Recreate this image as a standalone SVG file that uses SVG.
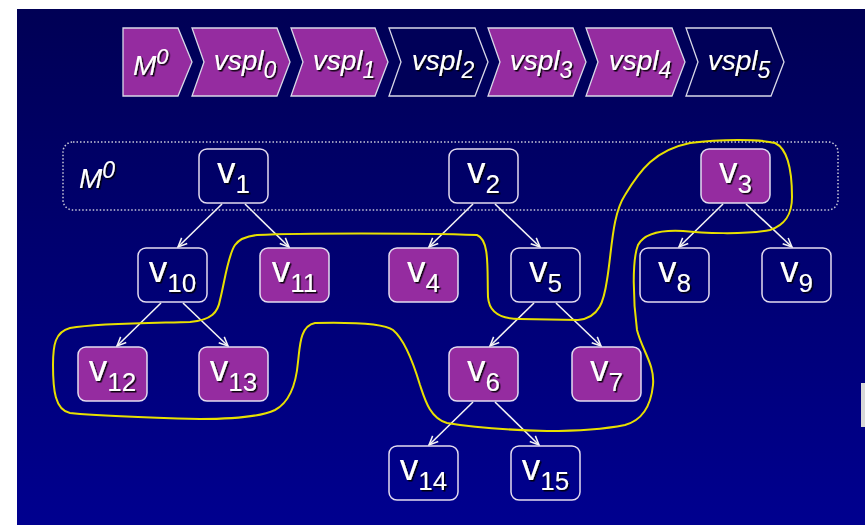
<svg xmlns="http://www.w3.org/2000/svg" width="865" height="525" viewBox="0 0 865 525">
  <defs>
    <linearGradient id="bg" x1="0" y1="0" x2="0" y2="1">
      <stop offset="0" stop-color="#000055"/>
      <stop offset="1" stop-color="#00008f"/>
    </linearGradient>
    <filter id="shadow" x="-20%" y="-20%" width="140%" height="140%">
      <feDropShadow dx="1.5" dy="1.5" stdDeviation="0.4" flood-color="#000000" flood-opacity="0.9"/>
    </filter>
    <marker id="arrow" viewBox="-10 -6 12 12" refX="0" refY="0" markerWidth="12" markerHeight="12" markerUnits="userSpaceOnUse" orient="auto">
      <path d="M-9,-4 L0,0 L-9,4" fill="none" stroke="#f4f4f4" stroke-width="1.5"/>
    </marker>
  </defs>
  <style>
    .chev { stroke: #d8d8e8; stroke-width: 1.3; }
    .purple { fill: #952ca0; }
    .dark { fill: #000058; }
    .clab { font-family: "Liberation Sans", Arial, sans-serif; font-style: italic; font-size: 28px; fill: #ffffff; filter: url(#shadow); }
    .node rect { stroke: #e4dcf0; stroke-width: 1.5; }
    .node .plain { fill: none; }
    .node .hi { fill: #952ca0; }
    .nlab { font-family: "Liberation Sans", Arial, sans-serif; font-size: 37px; fill: #ffffff; filter: url(#shadow); text-anchor: middle; }
    .sub { font-size: 26px; }
    .edge { stroke: #f4f4f4; stroke-width: 1.6; fill: none; marker-end: url(#arrow); }
    .loop { fill: none; stroke: #e8e000; stroke-width: 2; }
  </style>

  <!-- page and slide background -->
  <rect x="0" y="0" width="865" height="525" fill="#ffffff"/>
  <rect x="17" y="9" width="848" height="516" fill="url(#bg)"/>
  <rect x="861" y="383" width="4" height="44" fill="#d8d8d8"/>

  <!-- progressive mesh sequence -->
  <g id="sequence">
    <g id="seq-m0">
      <polygon class="chev purple" points="123,28 178,28 192,62 178,96 123,96"/>
      <text class="clab" x="133" y="75" font-size="35">M<tspan dy="-11" font-size="22">0</tspan></text>
    </g>
    <g id="seq-vspl0">
      <polygon class="chev purple" points="192,28 277,28 290,62 277,96 192,96 204,62"/>
      <text class="clab" x="245" y="70" text-anchor="middle">vspl<tspan dy="8" font-size="23">0</tspan></text>
    </g>
    <g id="seq-vspl1">
      <polygon class="chev purple" points="291,28 375,28 388,62 375,96 291,96 303,62"/>
      <text class="clab" x="344" y="70" text-anchor="middle">vspl<tspan dy="8" font-size="23">1</tspan></text>
    </g>
    <g id="seq-vspl2">
      <polygon class="chev dark" points="389,28 475,28 488,62 475,96 389,96 401,62"/>
      <text class="clab" x="443" y="70" text-anchor="middle">vspl<tspan dy="8" font-size="23">2</tspan></text>
    </g>
    <g id="seq-vspl3">
      <polygon class="chev purple" points="488,28 573,28 586,62 573,96 488,96 500,62"/>
      <text class="clab" x="541" y="70" text-anchor="middle">vspl<tspan dy="8" font-size="23">3</tspan></text>
    </g>
    <g id="seq-vspl4">
      <polygon class="chev purple" points="586,28 672,28 685,62 672,96 586,96 598,62"/>
      <text class="clab" x="640" y="70" text-anchor="middle">vspl<tspan dy="8" font-size="23">4</tspan></text>
    </g>
    <g id="seq-vspl5">
      <polygon class="chev dark" points="686,28 771,28 784,62 771,96 686,96 698,62"/>
      <text class="clab" x="739" y="70" text-anchor="middle">vspl<tspan dy="8" font-size="23">5</tspan></text>
    </g>
  </g>

  <!-- base mesh frame -->
  <g id="base-mesh">
    <rect x="63" y="142" width="775" height="68" rx="10" fill="none" stroke="#c8c8d8" stroke-width="1.5" stroke-dasharray="1.5 2"/>
    <text class="clab" x="79" y="188" font-size="37">M<tspan dy="-10" font-size="23">0</tspan></text>
  </g>

  <!-- hierarchy edges -->
  <g id="edges">
    <line class="edge" x1="222" y1="204" x2="178" y2="247"/>
    <line class="edge" x1="245" y1="204" x2="289" y2="247"/>
    <line class="edge" x1="473" y1="204" x2="429" y2="247"/>
    <line class="edge" x1="495" y1="204" x2="540" y2="247"/>
    <line class="edge" x1="723" y1="204" x2="679" y2="247"/>
    <line class="edge" x1="746" y1="204" x2="792" y2="247"/>
    <line class="edge" x1="161" y1="303" x2="117" y2="346"/>
    <line class="edge" x1="183" y1="303" x2="228" y2="346"/>
    <line class="edge" x1="534" y1="303" x2="490" y2="346"/>
    <line class="edge" x1="556" y1="303" x2="601" y2="346"/>
    <line class="edge" x1="473" y1="402" x2="429" y2="445"/>
    <line class="edge" x1="495" y1="402" x2="539" y2="445"/>
  </g>

  <!-- vertices -->
  <g id="v1" class="node"><rect class="plain" x="199" y="149" width="69" height="54" rx="8"/><text class="nlab" x="233.5" y="183">v<tspan class="sub" dy="10">1</tspan></text></g>
  <g id="v2" class="node"><rect class="plain" x="449" y="149" width="69" height="54" rx="8"/><text class="nlab" x="483.5" y="183">v<tspan class="sub" dy="10">2</tspan></text></g>
  <g id="v3" class="node"><rect class="hi" x="701" y="149" width="69" height="54" rx="8"/><text class="nlab" x="735.5" y="183">v<tspan class="sub" dy="10">3</tspan></text></g>

  <g id="v10" class="node"><rect class="plain" x="138" y="248" width="69" height="54" rx="8"/><text class="nlab" x="172.5" y="282">v<tspan class="sub" dy="10">10</tspan></text></g>
  <g id="v11" class="node"><rect class="hi" x="260" y="248" width="69" height="54" rx="8"/><text class="nlab" x="294.5" y="282">v<tspan class="sub" dy="10">11</tspan></text></g>
  <g id="v4" class="node"><rect class="hi" x="389" y="248" width="69" height="54" rx="8"/><text class="nlab" x="423.5" y="282">v<tspan class="sub" dy="10">4</tspan></text></g>
  <g id="v5" class="node"><rect class="plain" x="511" y="248" width="69" height="54" rx="8"/><text class="nlab" x="545.5" y="282">v<tspan class="sub" dy="10">5</tspan></text></g>
  <g id="v8" class="node"><rect class="plain" x="640" y="248" width="69" height="54" rx="8"/><text class="nlab" x="674.5" y="282">v<tspan class="sub" dy="10">8</tspan></text></g>
  <g id="v9" class="node"><rect class="plain" x="762" y="248" width="69" height="54" rx="8"/><text class="nlab" x="796.5" y="282">v<tspan class="sub" dy="10">9</tspan></text></g>

  <g id="v12" class="node"><rect class="hi" x="78" y="347" width="69" height="54" rx="8"/><text class="nlab" x="112.5" y="381">v<tspan class="sub" dy="10">12</tspan></text></g>
  <g id="v13" class="node"><rect class="hi" x="199" y="347" width="69" height="54" rx="8"/><text class="nlab" x="233.5" y="381">v<tspan class="sub" dy="10">13</tspan></text></g>
  <g id="v6" class="node"><rect class="hi" x="449" y="347" width="69" height="54" rx="8"/><text class="nlab" x="483.5" y="381">v<tspan class="sub" dy="10">6</tspan></text></g>
  <g id="v7" class="node"><rect class="hi" x="572" y="347" width="69" height="54" rx="8"/><text class="nlab" x="606.5" y="381">v<tspan class="sub" dy="10">7</tspan></text></g>

  <g id="v14" class="node"><rect class="plain" x="389" y="446" width="69" height="54" rx="8"/><text class="nlab" x="423.5" y="480">v<tspan class="sub" dy="10">14</tspan></text></g>
  <g id="v15" class="node"><rect class="plain" x="511" y="446" width="69" height="54" rx="8"/><text class="nlab" x="545.5" y="480">v<tspan class="sub" dy="10">15</tspan></text></g>

  <!-- hand-drawn outline around the selected vertices -->
  <path class="loop" d="M257,235 C300,233 420,233 477,235 C490,240 487,270 488,297 C489,312 500,319 520,319 L578,320 C600,318 604,300 607,280 C612,250 612,215 625,195 C640,170 655,150 690,143 C720,139 760,139 775,143 C790,150 792,180 792,197 C792,215 785,225 770,230 C745,235 700,233 683,231 C665,230 645,232 638,245 C632,260 633,300 637,330 C642,350 655,365 653,385 C651,405 643,420 625,425 C600,430 570,431 547,431 C510,430 470,427 447,423 C430,418 425,400 420,385 C414,365 405,340 393,330 C385,324 360,322 315,323 C300,326 300,345 298,362 C296,385 290,402 275,410 C260,417 235,419 200,419 C160,418 100,416 70,413 C55,410 53,390 53,365 C53,345 55,332 70,328 C100,323 160,323 190,322 C212,320 218,312 220,300 C225,280 228,255 235,245 C240,238 248,236 257,235 Z"/>
</svg>
